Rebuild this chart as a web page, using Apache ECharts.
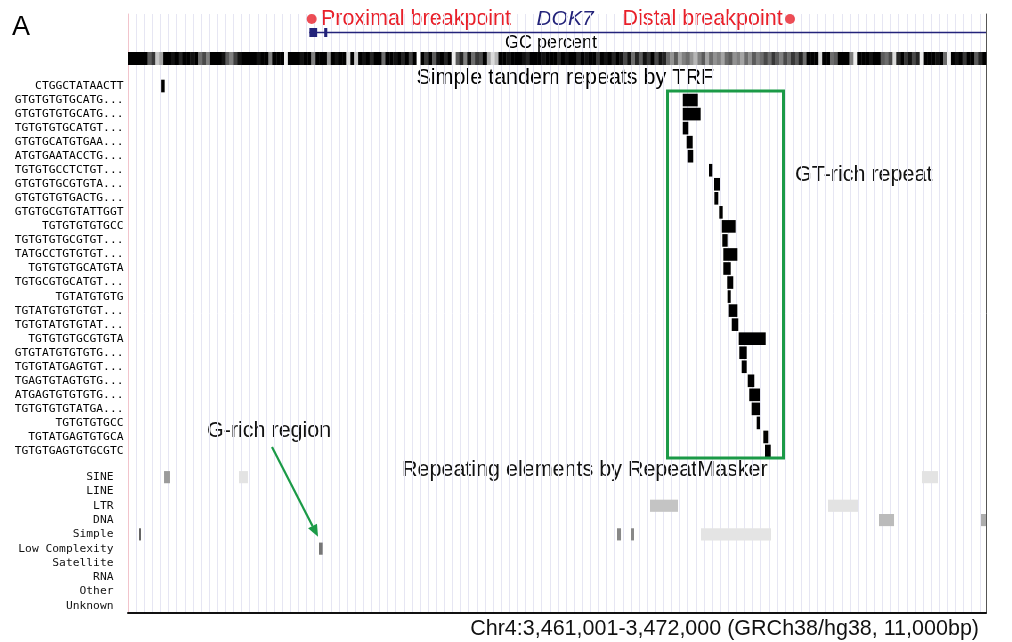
<!DOCTYPE html>
<html>
<head>
<meta charset="utf-8">
<script src="https://cdn.jsdelivr.net/npm/echarts@6/dist/echarts.min.js"></script>
<style>
  html, body { margin: 0; padding: 0; background: #fff; }
  #chart { width: 1012px; height: 642px; }
</style>
</head>
<body>
<div id="chart"></div>
<script>
// all positions are bp offsets from chr4:3,461,000
const regionLength = 11000;

// Simple tandem repeats by TRF
const trfLabels = [
  'CTGGCTATAACTT', 'GTGTGTGTGCATG...', 'GTGTGTGTGCATG...', 'TGTGTGTGCATGT...',
  'GTGTGCATGTGAA...', 'ATGTGAATACCTG...', 'TGTGTGCCTCTGT...', 'GTGTGTGCGTGTA...',
  'GTGTGTGTGACTG...', 'GTGTGCGTGTATTGGT', 'TGTGTGTGTGCC', 'TGTGTGTGCGTGT...',
  'TATGCCTGTGTGT...', 'TGTGTGTGCATGTA', 'TGTGCGTGCATGT...', 'TGTATGTGTG',
  'TGTATGTGTGTGT...', 'TGTGTATGTGTAT...', 'TGTGTGTGCGTGTA', 'GTGTATGTGTGTG...',
  'TGTGTATGAGTGT...', 'TGAGTGTAGTGTG...', 'ATGAGTGTGTGTG...', 'TGTGTGTGTATGA...',
  'TGTGTGTGCC', 'TGTATGAGTGTGCA', 'TGTGTGAGTGTGCGTC'
];
const trfStart = [425, 7112, 7112, 7112, 7163, 7176, 7449, 7513, 7517, 7581, 7612, 7619, 7632, 7632,
  7683, 7688, 7701, 7740, 7829, 7837, 7868, 7945, 7965, 7996, 8060, 8145, 8167];
const trfEnd = [470, 7304, 7342, 7183, 7240, 7247, 7491, 7590, 7568, 7624, 7791, 7688, 7812, 7727,
  7760, 7727, 7812, 7824, 8176, 7932, 7932, 8029, 8103, 8103, 8103, 8209, 8240];

// Repeating elements by RepeatMasker
const rmLabels = ['SINE', 'LINE', 'LTR', 'DNA', 'Simple', 'Low Complexity', 'Satellite', 'RNA', 'Other', 'Unknown'];
const rmClass = [0, 0, 0, 2, 2, 3, 3, 4, 4, 4, 4, 5];
const rmStart = [462, 1423, 10179, 6692, 8974, 9628, 10936, 141, 6269, 6449, 7346, 2449];
const rmEnd   = [538, 1538, 10385, 7051, 9359, 9821, 11000, 167, 6321, 6487, 8244, 2496];
const rmScore = [500, 100, 100, 270, 100, 320, 400, 800, 605, 605, 95, 700];

// DOK7 gene model
const geneTx = [2325, 11000];
const exonStart = [2325, 2515];
const exonEnd = [2425, 2555];

const breakpoints = [2355, 8487];
const gtRichRegion = [6917, 8404];

// GC percent, 50 bp windows
const gcPercent = [
  64, 66, 62, 65, 63, 52, 56, 40, 44, 62, 66, 60, 64, 58, 66, 62, 60, 65, 50, 54,
  48, 64, 62, 66, 60, 52, 48, 55, 60, 66, 62, 64, 68, 60, 63, 65, 48, 64, 62, 66,
  36, 66, 62, 64, 60, 66, 63, 48, 64, 62, 66, 46, 64, 60, 66, 62, 38, 62, 40, 64,
  60, 66, 58, 62, 64, 50, 62, 66, 60, 64, 58, 62, 55, 62, 34, 62, 56, 64, 52, 60,
  66, 58, 62, 36, 52, 58, 48, 60, 50, 56, 54, 62, 44, 38, 42, 64, 66, 60, 64, 62,
  66, 60, 58, 64, 66, 62, 60, 64, 66, 62, 58, 64, 60, 66, 62, 58, 64, 60, 66, 62,
  56, 64, 60, 62, 58, 66, 60, 54, 60, 50, 58, 52, 60, 56, 62, 54, 60, 58, 50, 46,
  52, 44, 48, 50, 46, 42, 48, 52, 44, 50, 46, 48, 44, 50, 52, 46, 48, 44, 50, 46,
  52, 48, 50, 54, 50, 56, 52, 48, 54, 50, 56, 52, 58, 50, 64, 62, 66, 38, 64, 62,
  50, 52, 64, 66, 64, 48, 36, 64, 62, 66, 60, 64, 62, 52, 50, 54, 38, 58, 62, 56,
  60, 54, 58, 36, 64, 62, 66, 60, 64, 50, 36, 64, 60, 66, 56, 62, 64, 52, 58, 62
];

const SANS = '"Liberation Sans", Arial, sans-serif';
const MONO = '"DejaVu Sans Mono", monospace';
const RED = '#e8202a';
const NAVY = '#23237a';
const GREEN = '#1b9a47';

const gcBin = regionLength / gcPercent.length;

function grayHex(level) {
  const h = Math.max(0, Math.min(255, Math.round(level))).toString(16).padStart(2, '0');
  return '#' + h + h + h;
}
function gcColor(v) {
  const t = Math.max(0, Math.min(1, (v - 34) / 28));
  return grayHex(255 * (1 - t));
}
function rmColor(s) {
  return grayHex(245 - s * 0.18);
}

const chart = echarts.init(document.getElementById('chart'));

const hiddenX = (g) => ({ type: 'value', gridIndex: g, min: 0, max: regionLength, show: false });

chart.setOption({
  animation: false,
  grid: [
    { left: 128, right: 26, top: 14, bottom: 29 },
    { left: 128, right: 26, top: 79, height: 379 },
    { left: 128, right: 26, top: 470, height: 143 }
  ],
  xAxis: [
    {
      type: 'value', gridIndex: 0, min: 0, max: regionLength, interval: 104,
      axisLabel: { show: false }, axisTick: { show: false },
      axisLine: { show: true, onZero: false, lineStyle: { color: '#111', width: 2 } },
      splitLine: { show: true, lineStyle: { color: '#e6e6f3', width: 1 } }
    },
    hiddenX(1),
    hiddenX(2)
  ],
  yAxis: [
    {
      type: 'value', gridIndex: 0, min: 0, max: 599, inverse: true,
      axisLine: { show: true, onZero: false, lineStyle: { color: '#f2c4cc' } },
      axisLabel: { show: false }, axisTick: { show: false }, splitLine: { show: false }
    },
    {
      type: 'value', gridIndex: 0, min: 0, max: 599, inverse: true, position: 'right',
      axisLine: { show: true, onZero: false, lineStyle: { color: '#555' } },
      axisLabel: { show: false }, axisTick: { show: false }, splitLine: { show: false }
    },
    {
      type: 'category', gridIndex: 1, data: trfLabels, inverse: true,
      axisLine: { show: false }, axisTick: { show: false }, splitLine: { show: false },
      axisLabel: { interval: 0, margin: 4.5, fontFamily: MONO, fontSize: 11.3, color: '#000' }
    },
    {
      type: 'category', gridIndex: 2, data: rmLabels, inverse: true,
      axisLine: { show: false }, axisTick: { show: false }, splitLine: { show: false },
      axisLabel: { interval: 0, margin: 14.5, fontFamily: MONO, fontSize: 11.3, color: '#111' }
    }
  ],
  series: [
    {
      // GC percent density track
      type: 'custom', xAxisIndex: 0, yAxisIndex: 0, silent: true,
      data: gcPercent.map((v, i) => [i * gcBin, (i + 1) * gcBin, v]),
      renderItem(params, api) {
        const p0 = api.coord([api.value(0), 38]);
        const p1 = api.coord([api.value(1), 51]);
        return {
          type: 'rect',
          shape: { x: p0[0], y: p0[1], width: p1[0] - p0[0] + 0.4, height: p1[1] - p0[1] },
          style: { fill: gcColor(api.value(2)) }
        };
      }
    },
    {
      // DOK7 gene: transcript line + exons
      type: 'custom', xAxisIndex: 0, yAxisIndex: 0, silent: true,
      data: [[geneTx[0], geneTx[1], 0]].concat(exonStart.map((s, i) => [s, exonEnd[i], 1])),
      renderItem(params, api) {
        if (api.value(2) === 0) {
          const a = api.coord([api.value(0), 18.5]);
          const b = api.coord([api.value(1), 18.5]);
          return { type: 'line', shape: { x1: a[0], y1: a[1], x2: b[0], y2: b[1] }, style: { stroke: NAVY, lineWidth: 1.5 } };
        }
        const p0 = api.coord([api.value(0), 14]);
        const p1 = api.coord([api.value(1), 23]);
        return {
          type: 'rect',
          shape: { x: p0[0], y: p0[1], width: Math.max(p1[0] - p0[0], 2), height: p1[1] - p0[1] },
          style: { fill: NAVY }
        };
      }
    },
    {
      type: 'scatter', xAxisIndex: 0, yAxisIndex: 0, silent: true,
      symbol: 'circle', symbolSize: 10,
      itemStyle: { color: RED },
      data: breakpoints.map(b => [b, 5])
    },
    {
      // TRF repeats
      type: 'custom', xAxisIndex: 1, yAxisIndex: 2, silent: true,
      data: trfStart.map((s, i) => [s, trfEnd[i], i]),
      renderItem(params, api) {
        const a = api.coord([api.value(0), api.value(2)]);
        const b = api.coord([api.value(1), api.value(2)]);
        const h = api.size([0, 1])[1] * 0.9;
        return {
          type: 'rect',
          shape: { x: a[0], y: a[1] - h / 2, width: Math.max(b[0] - a[0], 2), height: h },
          style: { fill: '#000' }
        };
      }
    },
    {
      // GT-rich repeat box
      type: 'custom', xAxisIndex: 1, yAxisIndex: 2, silent: true, z: 5,
      data: [[gtRichRegion[0], gtRichRegion[1], 1, trfLabels.length - 1]],
      renderItem(params, api) {
        const band = api.size([0, 1])[1];
        const a = api.coord([api.value(0), api.value(2)]);
        const b = api.coord([api.value(1), api.value(3)]);
        const top = a[1] - band / 2 - 2;
        const bottom = b[1] + band / 2;
        return {
          type: 'rect',
          shape: { x: a[0], y: top, width: b[0] - a[0], height: bottom - top },
          style: { fill: 'none', stroke: GREEN, lineWidth: 3 }
        };
      }
    },
    {
      // RepeatMasker elements
      type: 'custom', xAxisIndex: 2, yAxisIndex: 3, silent: true,
      data: rmStart.map((s, i) => [s, rmEnd[i], rmClass[i], rmScore[i]]),
      renderItem(params, api) {
        const a = api.coord([api.value(0), api.value(2)]);
        const b = api.coord([api.value(1), api.value(2)]);
        const h = api.size([0, 1])[1] * 0.85;
        return {
          type: 'rect',
          shape: { x: a[0], y: a[1] - h / 2, width: Math.max(b[0] - a[0], 2), height: h },
          style: { fill: rmColor(api.value(3)) }
        };
      }
    }
  ],
  graphic: [
    { type: 'text', style: { text: 'A', x: 12, y: 28, font: '27px ' + SANS, fill: '#000', textVerticalAlign: 'middle' } },
    { type: 'text', style: { text: 'Proximal breakpoint', x: 321, y: 19, font: '21.5px ' + SANS, fill: RED, textVerticalAlign: 'middle' } },
    { type: 'text', style: { text: 'DOK7', x: 565, y: 19, font: 'italic 21px ' + SANS, fill: NAVY, textAlign: 'center', textVerticalAlign: 'middle' } },
    { type: 'text', style: { text: 'Distal breakpoint', x: 622.5, y: 19, font: '21.5px ' + SANS, fill: RED, textVerticalAlign: 'middle' } },
    { type: 'text', style: { text: 'GC percent', x: 551, y: 43, font: '18px ' + SANS, fill: '#000', textAlign: 'center', textVerticalAlign: 'middle' } },
    { type: 'text', style: { text: 'Simple tandem repeats by TRF', x: 416.5, y: 78, font: '21.5px ' + SANS, fill: '#000', textVerticalAlign: 'middle' } },
    { type: 'text', style: { text: 'GT-rich repeat', x: 795, y: 175, font: '21.5px ' + SANS, fill: '#111', textVerticalAlign: 'middle' } },
    { type: 'text', style: { text: 'G-rich region', x: 207, y: 431, font: '21.5px ' + SANS, fill: '#111', textVerticalAlign: 'middle' } },
    { type: 'text', style: { text: 'Repeating elements by RepeatMasker', x: 402, y: 470, font: '21.5px ' + SANS, fill: '#111', textVerticalAlign: 'middle' } },
    { type: 'text', style: { text: 'Chr4:3,461,001-3,472,000 (GRCh38/hg38, 11,000bp)', x: 979, y: 629, font: '21.5px ' + SANS, fill: '#111', textAlign: 'right', textVerticalAlign: 'middle' } }
  ]
});

// arrow from the "G-rich region" note to the low-complexity element
const lowIdx = rmClass.indexOf(5);
const target = chart.convertToPixel({ gridIndex: 2 }, [rmStart[lowIdx], rmLabels[5]]);
const tx = target[0] - 1, ty = target[1] - 12;
const sx = 272, sy = 447;
const ang = Math.atan2(ty - sy, tx - sx);
const headLen = 12, headW = 5;
const bx = tx - headLen * Math.cos(ang), by = ty - headLen * Math.sin(ang);
const px = -Math.sin(ang) * headW, py = Math.cos(ang) * headW;
chart.setOption({
  graphic: [
    { type: 'line', id: 'arrowLine', z: 20, shape: { x1: sx, y1: sy, x2: bx, y2: by }, style: { stroke: GREEN, lineWidth: 2.2 } },
    { type: 'polygon', id: 'arrowHead', z: 20, shape: { points: [[tx, ty], [bx + px, by + py], [bx - px, by - py]] }, style: { fill: GREEN } }
  ]
});
</script>
</body>
</html>
